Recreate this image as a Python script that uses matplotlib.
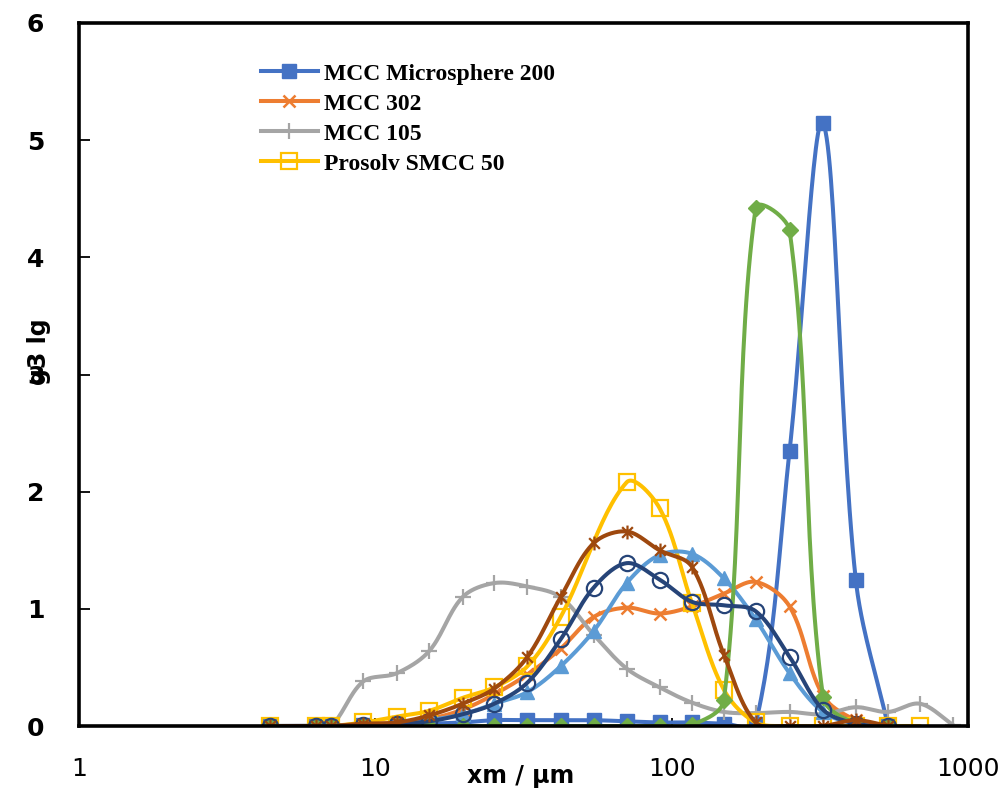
import numpy as np
import matplotlib
matplotlib.use("Agg")
import matplotlib.pyplot as plt
from matplotlib.path import Path
from matplotlib.ticker import FixedLocator, FixedFormatter, NullLocator

# ---- data ----
xm = [4.4, 6.3, 7.1, 9.1, 11.8, 15.2, 19.7, 25.2, 32.6, 42.2, 54.5, 70.5,
      91, 117, 150, 192, 250, 324, 418, 537, 689, 890]

mcc_ms200 = [0, 0, 0, 0.01, 0.01, 0.02, 0.03, 0.05, 0.05, 0.05, 0.05, 0.04,
             0.03, 0.03, 0.02, 0.02, 2.35, 5.15, 1.25, 0.0]
mcc_302 = [0, 0, 0, 0.01, 0.03, 0.06, 0.14, 0.27, 0.44, 0.66, 0.93, 1.01,
           0.96, 1.02, 1.13, 1.23, 1.02, 0.26, 0.05, 0.0]
mcc_105 = [0, 0, 0, 0.38, 0.45, 0.64, 1.10, 1.22, 1.19, 1.10, 0.78, 0.49,
           0.33, 0.20, 0.12, 0.11, 0.12, 0.10, 0.16, 0.12, 0.19, 0.01]
# Prosolv has no visible point at 54.5 um
xm_prosolv = [4.4, 6.3, 7.1, 9.1, 11.8, 15.2, 19.7, 25.2, 32.6, 42.2, 70.5,
              91, 117, 150, 192, 250, 324, 418, 537, 689]
prosolv = [0, 0, 0, 0.03, 0.08, 0.13, 0.24, 0.33, 0.51, 0.93, 2.08,
           1.86, 1.05, 0.31, 0.03, 0, 0, 0, 0, 0]
ser5 = [0, 0, 0, 0.01, 0.02, 0.05, 0.10, 0.19, 0.29, 0.51, 0.81, 1.22,
        1.46, 1.47, 1.26, 0.91, 0.45, 0.12, 0.02, 0.0]
ser6 = [0, 0, 0, 0, 0, 0, 0, 0, 0, 0, 0, 0, 0, 0.01, 0.22, 4.42, 4.23,
        0.25, 0.02, 0.0]
ser7 = [0, 0, 0, 0.01, 0.02, 0.04, 0.10, 0.19, 0.37, 0.74, 1.18, 1.39,
        1.25, 1.06, 1.03, 0.98, 0.59, 0.14, 0.02, 0.0]
ser8 = [0, 0, 0, 0.02, 0.03, 0.09, 0.19, 0.32, 0.59, 1.10, 1.56, 1.66,
        1.50, 1.36, 0.61, 0.03, 0.0, 0.0, 0.05, 0.0]

xticks = [1, 10, 100, 1000]
yticks = [0, 1, 2, 3, 4, 5, 6]

# approx. screen pixels per decade / per y unit, used for the smoothing
PX_DEC, PX_Y = 296.0, 117.2


def smooth(x, y, n=30):
    # Excel-like smoothed line: bezier with chord-length scaled tangents,
    # worked out in screen-like units
    P = np.column_stack([np.log10(np.asarray(x, float)) * PX_DEC,
                         np.asarray(y, float) * PX_Y])
    P = np.vstack([P[0], P, P[-1]])
    out = []
    t = np.linspace(0, 1, n)[:, None]
    for i in range(1, len(P) - 2):
        p0, p1, p2, p3 = P[i - 1], P[i], P[i + 1], P[i + 2]
        d01 = np.linalg.norm(p1 - p0)
        d12 = np.linalg.norm(p2 - p1)
        d23 = np.linalg.norm(p3 - p2)
        f1 = d12 / (d01 + d12) if d01 + d12 > 0 else 0
        f2 = d12 / (d12 + d23) if d12 + d23 > 0 else 0
        b1 = p1 + (p2 - p0) * f1 / 3.0
        b2 = p2 - (p3 - p1) * f2 / 3.0
        seg = ((1 - t) ** 3) * p1 + 3 * ((1 - t) ** 2) * t * b1 \
            + 3 * (1 - t) * t ** 2 * b2 + t ** 3 * p2
        out.append(seg if i == 1 else seg[1:])
    c = np.vstack(out)
    return 10 ** (c[:, 0] / PX_DEC), c[:, 1] / PX_Y


star = Path([(-1, -1), (1, 1), (-1, 1), (1, -1), (0, -1.3), (0, 1.3)],
            [Path.MOVETO, Path.LINETO, Path.MOVETO, Path.LINETO,
             Path.MOVETO, Path.LINETO])

series = [
    (xm, mcc_ms200, "#4472C4", dict(marker="s", ms=10), "MCC Microsphere 200"),
    (xm, mcc_302, "#ED7D31", dict(marker="x", ms=9, mew=1.8), "MCC 302"),
    (xm, mcc_105, "#A5A5A5", dict(marker="+", ms=12, mew=1.6), "MCC 105"),
    (xm_prosolv, prosolv, "#FFC000", dict(marker="s", ms=11, mfc="none", mew=1.6),
     "Prosolv SMCC 50"),
    (xm, ser5, "#5B9BD5", dict(marker="^", ms=10), None),
    (xm, ser6, "#70AD47", dict(marker="D", ms=8), None),
    (xm, ser7, "#264478", dict(marker="o", ms=11, mfc="none", mew=1.6), None),
    (xm, ser8, "#9E480E", dict(marker=star, ms=10, mfc="none", mew=1.6), None),
]

fig = plt.figure(figsize=(10.06, 7.93), dpi=100)
ax = fig.add_axes([79 / 1006, 1 - 726 / 793, 889 / 1006, 703 / 793])

handles = []
for xs, ys, col, mk, lab in series:
    xs_ = xs[:len(ys)]
    sx, sy = smooth(xs_, ys)
    ax.plot(sx, sy, color=col, lw=2.9, solid_capstyle="round", zorder=2)
    ax.plot(xs_, ys, ls="none", color=col, mec=col, zorder=2, **mk)
    if lab:
        h, = ax.plot([], [], color=col, lw=2.9, mec=col, label=lab, **mk)
        handles.append(h)

ax.set_xscale("log")
ax.set_xlim(1, 1000)
ax.set_ylim(0, 6)
ax.xaxis.set_major_locator(FixedLocator(xticks))
ax.xaxis.set_major_formatter(FixedFormatter([str(v) for v in xticks]))
ax.xaxis.set_minor_locator(NullLocator())
ax.set_yticks(yticks)

for s in ax.spines.values():
    s.set_linewidth(2.6)
    s.set_color("black")

ax.tick_params(axis="y", direction="in", length=8, width=1.3, pad=25)
ax.tick_params(axis="x", direction="in", length=6, width=1.3, pad=22)
for lb in ax.get_yticklabels():
    lb.set_fontfamily("DejaVu Sans")
    lb.set_fontweight("bold")
    lb.set_fontsize(18)
for lb in ax.get_xticklabels():
    lb.set_fontfamily(["Liberation Sans Narrow", "DejaVu Sans"])
    lb.set_fontsize(18)

ax.set_xlabel("xm / µm", fontsize=17, fontweight="bold", family="DejaVu Sans")
ax.xaxis.set_label_coords(0.497, -0.071)
ax.xaxis.label.set_va("center")
ax.set_ylabel("g3 lg", fontsize=17, fontweight="bold", family="DejaVu Sans")
ax.yaxis.set_label_coords(-0.045, 0.533)
ax.yaxis.label.set_va("center")

leg = ax.legend(handles=handles, loc="upper left",
                bbox_to_anchor=(261 / 1006, 1 - 63 / 793),
                bbox_transform=fig.transFigure, frameon=False,
                prop=dict(family="Liberation Serif", weight="bold", size=17),
                handlelength=2.4, handletextpad=0.25, labelspacing=0.36,
                borderpad=0, borderaxespad=0)

fig.savefig("out.png", dpi=100)
